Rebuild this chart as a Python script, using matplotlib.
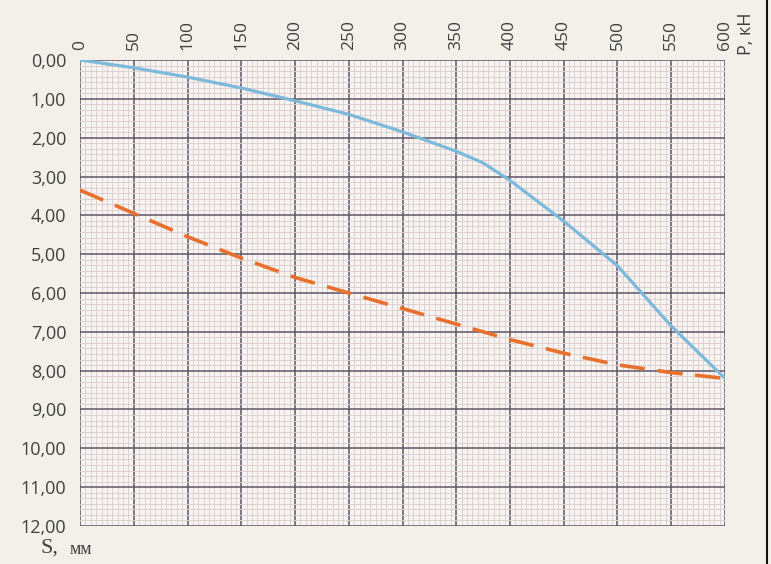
"""Load-settlement chart on graph-paper style grid."""

import matplotlib

matplotlib.use("Agg")

import matplotlib.pyplot as plt
import numpy as np
from matplotlib.lines import Line2D
from matplotlib.ticker import FixedLocator, MultipleLocator

# load P, kN and settlement S, mm
p_test = [0, 50, 100, 150, 200, 250, 300, 350, 375, 400, 450, 500, 550, 600]
s_test = [0.0, 0.2, 0.44, 0.72, 1.05, 1.4, 1.85, 2.35, 2.65, 3.1, 4.15, 5.3, 6.85, 8.2]

p_calc = [0, 50, 100, 150, 200, 250, 300, 350, 400, 450, 500, 550, 600]
s_calc = [3.35, 3.95, 4.55, 5.1, 5.6, 6.0, 6.4, 6.8, 7.2, 7.55, 7.85, 8.05, 8.2]

x_ticks = list(range(0, 601, 50))
y_ticks = list(range(0, 13))

paper = "#f3f0e9"
major_c = "#5e5566"
minor_c = "#ddd0d0"

fig = plt.figure(figsize=(7.71, 5.64), dpi=100, facecolor=paper)
ax = fig.add_axes([0.1038, 0.0674, 0.8365, 0.8262])
ax.set_facecolor("#f8f4f1")

ax.set_xlim(0, 600)
ax.set_ylim(12, 0)

ax.xaxis.tick_top()
ax.set_xticks(x_ticks)
ax.set_xticklabels([str(v) for v in x_ticks], rotation=90, fontsize=12.5,
                   color="#404040", family="Open Sans")
ax.set_yticks(y_ticks)
ax.set_yticklabels([f"{v:.2f}".replace(".", ",") for v in y_ticks], fontsize=13,
                   color="#404040", family="Open Sans")
ax.tick_params(axis="both", which="both", length=0)
ax.tick_params(axis="y", pad=10)
ax.tick_params(axis="x", pad=7)

ax.xaxis.set_minor_locator(MultipleLocator(5))
ax.yaxis.set_minor_locator(FixedLocator(np.arange(0, 12.001, 1 / 7)))
ax.grid(which="minor", color=minor_c, linewidth=0.7)
ax.grid(which="major", color=major_c, linewidth=1.1)
ax.set_axisbelow(True)
for sp in ax.spines.values():
    sp.set_visible(False)

ax.plot(p_test, s_test, color="#7db9da", linewidth=2.3, solid_capstyle="round")
ax.plot(p_calc, s_calc, color="#e8702c", linewidth=2.6, dashes=(7, 3.5))

fig.text(0.968, 0.94, "P, кН", rotation=90, ha="center", va="center",
         fontsize=13, color="#404040", family="Open Sans")
fig.text(0.053, 0.028, "S,", ha="left", va="center", fontsize=16,
         color="#404040", family="Liberation Serif")
fig.text(0.09, 0.026, "мм", ha="left", va="center", fontsize=13,
         color="#404040", family="Liberation Serif")

# scan edge on the right
fig.add_artist(Line2D([0.995, 0.995], [0, 1], transform=fig.transFigure,
                      color="#111111", linewidth=1.5))

fig.savefig("out.png", dpi=100, facecolor=paper)
